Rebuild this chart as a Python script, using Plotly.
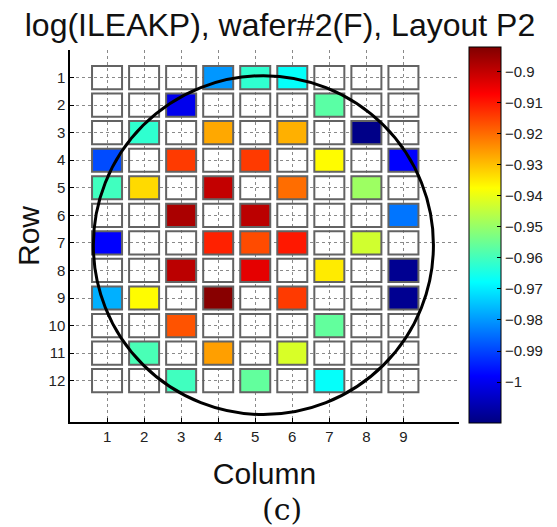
import numpy as np
import plotly.graph_objects as go

# ---- data ----
title_text = "log(ILEAKP), wafer#2(F), Layout P2"
n_rows = 12
n_cols = 9
col_ticks = [1, 2, 3, 4, 5, 6, 7, 8, 9]
row_ticks = [1, 2, 3, 4, 5, 6, 7, 8, 9, 10, 11, 12]
cbar_ticks = [-0.9, -0.91, -0.92, -0.93, -0.94, -0.95, -0.96, -0.97, -0.98, -0.99, -1.0]
cbar_labels = ["−0.9", "−0.91", "−0.92", "−0.93", "−0.94", "−0.95", "−0.96", "−0.97", "−0.98", "−0.99", "−1"]

# measured dies: row, column, log(ILEAKP)
die_rows = [1, 1, 1, 2, 2, 3, 3, 3, 3, 4, 4, 4, 4, 4, 5, 5, 5, 5, 5, 6, 6, 6,
            7, 7, 7, 7, 7, 8, 8, 8, 8, 9, 9, 9, 9, 9, 10, 10, 11, 11, 11, 12, 12, 12]
die_cols = [4, 5, 6, 3, 7, 2, 4, 6, 8, 1, 3, 5, 7, 9, 1, 2, 4, 6, 8, 3, 5, 9,
            1, 4, 5, 6, 8, 3, 5, 7, 9, 1, 2, 4, 6, 9, 3, 7, 2, 4, 6, 3, 5, 7]
die_vals = [-0.980, -0.962, -0.967, -1.000, -0.957,
            -0.962, -0.927, -0.928, -1.012,
            -0.989, -0.914, -0.914, -0.937, -0.998,
            -0.960, -0.933, -0.900, -0.920, -0.949,
            -0.897, -0.899, -0.984,
            -0.998, -0.911, -0.916, -0.910, -0.943,
            -0.899, -0.904, -0.935, -1.011,
            -0.977, -0.937, -0.893, -0.914, -1.011,
            -0.917, -0.956,
            -0.959, -0.926, -0.942,
            -0.960, -0.956, -0.967]
zmin, zmax = -1.013, -0.892

# wafer outline (center and radius in axis units)
wafer_cx, wafer_cy = 5.22, 7.08
wafer_rx, wafer_ry = 4.59, 6.15

# ---- build heatmap with gaps between dies ----
hw, hh = 0.405, 0.42
x_edges = []
for c in range(1, n_cols + 1):
    x_edges += [c - hw, c + hw]
y_edges = []
for r in range(1, n_rows + 1):
    y_edges += [r - hh, r + hh]
z = np.full((len(y_edges) - 1, len(x_edges) - 1), np.nan)
for r, c, v in zip(die_rows, die_cols, die_vals):
    z[2 * (r - 1), 2 * (c - 1)] = v

jet = [[0.0, "rgb(0,0,128)"], [0.125, "rgb(0,0,255)"], [0.375, "rgb(0,255,255)"],
       [0.625, "rgb(255,255,0)"], [0.875, "rgb(255,0,0)"], [1.0, "rgb(128,0,0)"]]

fig = go.Figure()
fig.add_trace(go.Heatmap(
    x=x_edges, y=y_edges, z=z, zmin=zmin, zmax=zmax, colorscale=jet,
    hoverongaps=False,
    colorbar=dict(
        x=1.0257, xanchor="left", y=1.0094, yanchor="top",
        thickness=32, len=376, lenmode="pixels",
        outlinecolor="black", outlinewidth=1, xpad=0, ypad=0,
        tickvals=cbar_ticks, ticktext=cbar_labels,
        ticks="inside", ticklen=4, tickcolor="black",
        tickfont=dict(family="Liberation Sans, Arial", size=15, color="#222"),
    ),
))

shapes = []
for r in range(1, n_rows + 1):
    for c in range(1, n_cols + 1):
        shapes.append(dict(type="rect", xref="x", yref="y",
                           x0=c - hw, x1=c + hw, y0=r - hh, y1=r + hh,
                           line=dict(color="#636363", width=2),
                           fillcolor="rgba(0,0,0,0)", layer="above"))
shapes.append(dict(type="circle", xref="x", yref="y",
                   x0=wafer_cx - wafer_rx, x1=wafer_cx + wafer_rx,
                   y0=wafer_cy - wafer_ry, y1=wafer_cy + wafer_ry,
                   line=dict(color="black", width=3), layer="above"))

font_main = "Liberation Sans, Arial"
fig.update_layout(
    width=549, height=519,
    margin=dict(l=62, r=98, t=42, b=105, autoexpand=False),
    paper_bgcolor="white", plot_bgcolor="white",
    shapes=shapes,
    title=dict(text=title_text, x=0.4954, xanchor="center", y=0.968, yanchor="middle",
               xref="container", yref="container", automargin=False,
               font=dict(family=font_main, size=32, color="#111")),
    xaxis=dict(
        range=[0, 10.5], tickvals=col_ticks, ticktext=[str(v) for v in col_ticks],
        showgrid=True, gridcolor="#8a8a8a", griddash="dot", gridwidth=1,
        zeroline=False, showline=True, linecolor="black", linewidth=1.5,
        ticks="inside", ticklen=4, tickcolor="black", automargin=False,
        tickfont=dict(family=font_main, size=15, color="#222"),
        title=dict(text="Column", standoff=19, font=dict(family=font_main, size=30, color="#111")),
    ),
    yaxis=dict(
        range=[13.5, 0], tickvals=[0] + row_ticks, ticktext=[""] + [str(v) for v in row_ticks],
        showgrid=True, gridcolor="#8a8a8a", griddash="dot", gridwidth=1,
        zeroline=False, showline=True, linecolor="black", linewidth=1.5,
        ticks="inside", ticklen=4, tickcolor="black", automargin=False,
        tickfont=dict(family=font_main, size=15, color="#222"),
        title=dict(text="Row", standoff=0, font=dict(family=font_main, size=30, color="#111")),
    ),
    annotations=[dict(text="(c)", xref="paper", yref="paper", x=0.545, y=-0.234,
                      xanchor="center", yanchor="middle", showarrow=False,
                      font=dict(family="DejaVu Serif", size=30, color="#111"))],
)

fig.write_html("out.html")
